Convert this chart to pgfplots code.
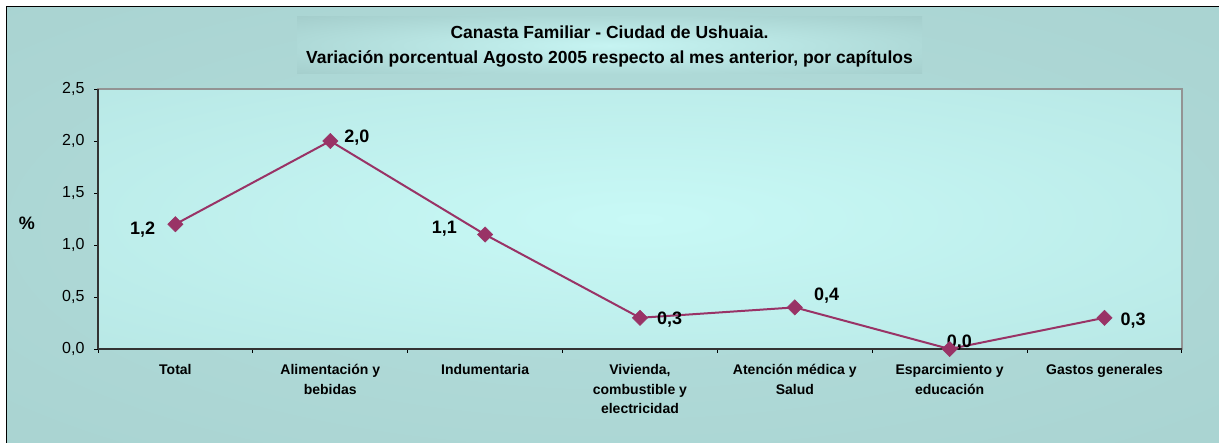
\documentclass[border=0pt]{standalone}
\usepackage{pgfplots}
\pgfplotsset{compat=1.18}
\usepackage{fontspec}
\setmainfont{Liberation Sans}
\definecolor{outerbg}{HTML}{A8D2D0}
\definecolor{outerin}{HTML}{B3DEDC}
\definecolor{plotin}{HTML}{C8F9F6}
\definecolor{plotout}{HTML}{B0DFDD}
\definecolor{titlein}{HTML}{C6F4F2}
\definecolor{titleout}{HTML}{97BFBD}
\definecolor{linecol}{HTML}{993366}
\pgfdeclareradialshading{outerglow}{\pgfpoint{0bp}{0bp}}{color(0bp)=(outerin); color(40bp)=(outerbg); color(100bp)=(outerbg)}
\pgfdeclareradialshading{plotglow}{\pgfpoint{0bp}{0bp}}{color(0bp)=(plotin); color(55bp)=(plotout); color(100bp)=(plotout)}
\pgfdeclareradialshading{titleglow}{\pgfpoint{0bp}{0bp}}{color(0bp)=(titlein); color(50bp)=(titleout); color(100bp)=(titleout)}
\begin{document}
\begin{tikzpicture}[x=1pt,y=1pt]
\useasboundingbox (0,0) rectangle (1219,443);
\fill[white] (0,0) rectangle (1219,443);
\begin{scope}
\clip (0,0) rectangle (1219,443);
\shade[shading=outerglow] (6.5,-5) rectangle (1230,436);
\draw[black, line width=1pt] (6.5,-5) rectangle (1230,436);
\end{scope}
\shade[shading=titleglow] (297,369) rectangle (922,426);
\node[align=center, font=\fontsize{17.5}{25}\selectfont\bfseries] at (609.5,396.5)
  {Canasta Familiar - Ciudad de Ushuaia.\\Variación porcentual Agosto 2005 respecto al mes anterior, por capítulos};
\node[font=\fontsize{18}{20}\selectfont\bfseries] at (27,220) {\%};
\begin{axis}[
  at={(98pt,94pt)}, anchor=south west,
  scale only axis, width=1084pt, height=260pt,
  xmin=-0.5, xmax=6.5, ymin=0, ymax=2.5,
  axis x line=bottom, axis y line=left,
  axis line style={-, black!80, line width=1.6pt},
  axis background/.style={shade, shading=plotglow, draw=gray!85, line width=1.6pt},
  tick align=outside, major tick length=4pt,
  tick style={black, line width=0.9pt},
  ytick={0,0.5,1,1.5,2,2.5},
  yticklabel style={font=\fontsize{16}{18}\selectfont, xshift=-6pt},
  /pgf/number format/.cd, use comma, fixed, fixed zerofill, precision=1, assume math mode=true,
  /pgfplots/.cd,
  xtick={-0.5,0.5,1.5,2.5,3.5,4.5,5.5,6.5},
  xticklabels={Total,{Alimentación y\\bebidas},Indumentaria,{Vivienda,\\combustible y\\electricidad},{Atención médica y\\Salud},{Esparcimiento y\\educación},Gastos generales,{}},
  xticklabel style={align=center, anchor=north, xshift=77.43pt, yshift=-8pt, font=\fontsize{14}{19.5}\selectfont\bfseries},
  clip=false,
]
\addplot[color=linecol, line width=2pt, mark=square*, mark size=5.4pt, mark options={rotate=45, fill=linecol, draw=linecol, line width=0.5pt}]
  coordinates {(0,1.2) (1,2.0) (2,1.1) (3,0.3) (4,0.4) (5,0.0) (6,0.3)};
\begin{scope}[every node/.style={inner sep=0pt, font=\fontsize{18}{20}\selectfont\bfseries}]
\node[anchor=base east, xshift=-20pt, yshift=-10.4pt] at (axis cs:0,1.2) {1,2};
\node[anchor=base west, xshift=14pt, yshift=-1.4pt] at (axis cs:1,2.0) {2,0};
\node[anchor=base east, xshift=-28pt, yshift=0.6pt] at (axis cs:2,1.1) {1,1};
\node[anchor=base west, xshift=17pt, yshift=-6.9pt] at (axis cs:3,0.3) {0,3};
\node[anchor=base west, xshift=19pt, yshift=6.6pt] at (axis cs:4,0.4) {0,4};
\node[anchor=base west, xshift=-3pt, yshift=1.6pt] at (axis cs:5,0.0) {0,0};
\node[anchor=base west, xshift=16pt, yshift=-7.4pt] at (axis cs:6,0.3) {0,3};
\end{scope}
\end{axis}
\end{tikzpicture}
\end{document}
